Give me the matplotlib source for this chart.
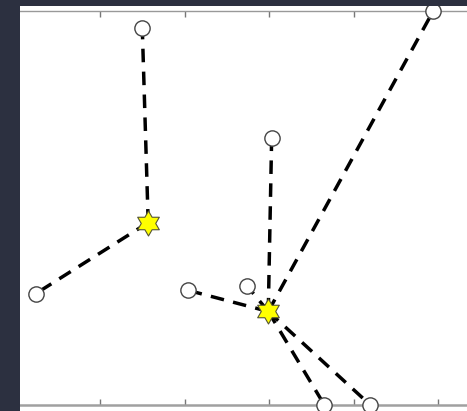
import matplotlib
matplotlib.use("Agg")
import matplotlib.pyplot as plt
from matplotlib.patches import Rectangle
from matplotlib.path import Path

# hub stations (yellow stars)
hub_x = [1.57, 2.99]
hub_y = [2.15, 1.10]

# outlying sites (open circles) and the hub each one links to
site_x = [1.50, 0.24, 4.94, 3.03, 2.04, 2.74, 3.65, 4.19]
site_y = [4.45, 1.31, 4.65, 3.15, 1.35, 1.40, 0.00, 0.00]
site_hub = [0, 0, 1, 1, 1, 1, 1, 1]

x_ticks = [1, 2, 3, 4, 5]

W, H = 467, 411
bg = "#2c3040"

fig = plt.figure(figsize=(W / 100, H / 100), dpi=100, facecolor=bg)

# white figure area behind the axes
fig.add_artist(Rectangle((20 / W, 0), 1 - 20 / W, 405 / H,
                         transform=fig.transFigure, facecolor="white",
                         edgecolor="none", zorder=-1))

ax = fig.add_axes([20 / W, 6.5 / H, 1 - 20 / W, 393.5 / H])
ax.set_facecolor("white")
ax.set_xlim(0.054, 5.34)
ax.set_ylim(0, 4.651)

hexagram = Path.unit_regular_star(6, 0.577)

for sx, sy, h in zip(site_x, site_y, site_hub):
    ln, = ax.plot([hub_x[h], sx], [hub_y[h], sy], color="black", lw=2.5,
                  solid_capstyle="butt", dash_capstyle="butt", zorder=2,
                  clip_on=False)
    ln.set_dashes((3.9, 2.7))

ax.plot(site_x, site_y, "o", ms=11, mfc="white", mec="#444444", mew=1.0,
        ls="none", zorder=3, clip_on=False)
ax.plot(hub_x, hub_y, ls="none", marker=hexagram, ms=18, mfc="#ffff00",
        mec="#555533", mew=0.8, zorder=4, clip_on=False)

ax.set_xticks(x_ticks)
ax.set_yticks([])
ax.tick_params(axis="x", direction="in", length=4, width=1, color="#777777",
               top=True, bottom=True, labelbottom=False, labeltop=False)
for side in ["left", "right"]:
    ax.spines[side].set_visible(False)
ax.spines["top"].set_color("#999999")
ax.spines["top"].set_linewidth(1.0)
ax.spines["bottom"].set_color("#a0a0a0")
ax.spines["bottom"].set_linewidth(1.8)

# dark frame bands on top of everything
fig.add_artist(Rectangle((0, 1 - 6 / H), 1, 6 / H, transform=fig.transFigure,
                         facecolor=bg, edgecolor="none", zorder=10))
fig.add_artist(Rectangle((0, 0), 20 / W, 1, transform=fig.transFigure,
                         facecolor=bg, edgecolor="none", zorder=10))

fig.savefig("out.png", dpi=100, facecolor=bg)
